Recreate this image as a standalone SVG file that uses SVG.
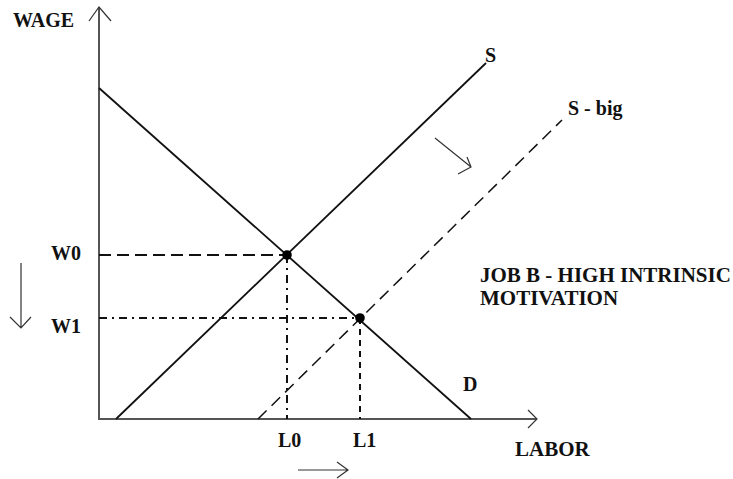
<svg xmlns="http://www.w3.org/2000/svg" width="733" height="479" viewBox="0 0 733 479">
<style>
.t{font-family:"Liberation Serif","Times New Roman",serif;font-weight:bold;font-size:20px;fill:#111}
.big{font-size:21px}
.ax{stroke:#555;stroke-width:2;fill:none}
.ln{stroke:#111;stroke-width:1.8;fill:none}
.thin{stroke:#333;stroke-width:1.2;fill:none}
.d1{stroke:#111;stroke-width:2;fill:none;stroke-dasharray:12 6}
.dd{stroke:#111;stroke-width:2;fill:none;stroke-dasharray:8 5 2 5}
.ds{stroke:#111;stroke-width:2;fill:none;stroke-dasharray:6 5}
.db{stroke:#111;stroke-width:1.5;fill:none;stroke-dasharray:12 7}
</style>
<rect width="733" height="479" fill="#fff"/>
<g id="axes">
<path class="ax" d="M99 7 V419 H537"/>
<path class="thin" d="M89 21 L99 7 L111 21"/>
<path class="thin" d="M528 410 L537 419 L528 428"/>
</g>
<g id="connectors">
<line id="demand" class="ln" x1="99" y1="88" x2="471" y2="419"/>
<line id="supply" class="ln" x1="116" y1="419" x2="486" y2="63"/>
<line id="supply-big" class="db" x1="258" y1="419" x2="562" y2="120"/>
<line class="d1" x1="99" y1="255" x2="287" y2="255"/>
<line class="dd" x1="99" y1="318" x2="360" y2="318"/>
<line class="dd" x1="287" y1="255" x2="287" y2="419"/>
<line class="ds" x1="360" y1="318" x2="360" y2="419"/>
<g id="shift-arrows">
<path class="thin" d="M21 263 V328 M10 317 L21 328 L31 317"/>
<path class="thin" d="M298 470 H348 M337 462 L348 470 L337 478"/>
<path class="thin" d="M435 138 L471 167 M458 174 L471 167 L467 157"/>
</g>
</g>
<g id="points">
<circle cx="287" cy="255" r="4.8" fill="#000"/>
<circle cx="360" cy="318" r="4.8" fill="#000"/>
</g>
<g id="labels">
<text class="t" x="13" y="27">WAGE</text>
<text class="t" x="51" y="260">W0</text>
<text class="t" x="51" y="333">W1</text>
<text class="t" x="278" y="447">L0</text>
<text class="t" x="353" y="447">L1</text>
<text class="t big" x="515" y="456">LABOR</text>
<text class="t" x="463" y="391">D</text>
<text class="t" x="485" y="62">S</text>
<text class="t" x="568" y="115">S - big</text>
<text class="t big" x="480" y="282">JOB B - HIGH INTRINSIC</text>
<text class="t big" x="480" y="305">MOTIVATION</text>
</g>
</svg>
